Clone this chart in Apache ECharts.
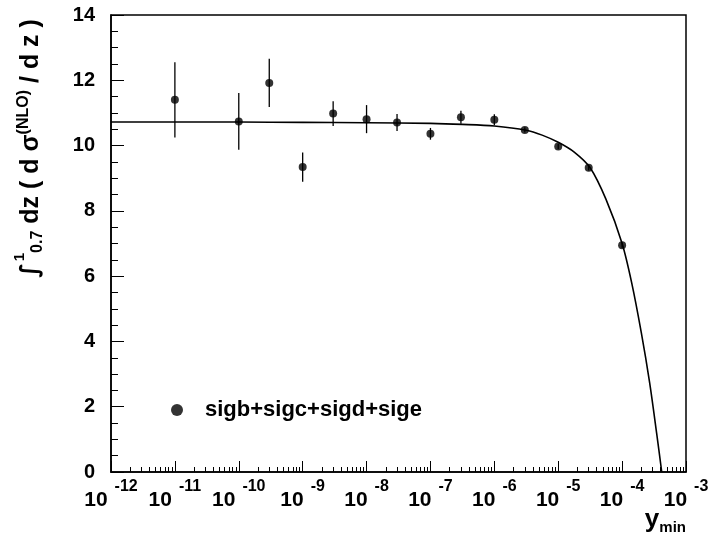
<!DOCTYPE html>
<html>
<head>
<meta charset="utf-8">
<script src="https://cdn.jsdelivr.net/npm/echarts@6/dist/echarts.min.js"></script>
<style>
html,body{margin:0;padding:0;background:#fff;}
#chart{width:713px;height:540px;}
</style>
</head>
<body>
<div id="chart"></div>
<script>
// ---- data ----
const seriesName = 'sigb+sigc+sigd+sige';
const ymin   = [1e-11, 1e-10, 3e-10, 1e-9, 3e-9, 1e-8, 3e-8, 1e-7, 3e-7, 1e-6, 3e-6, 1e-5, 3e-5, 1e-4];
const sigma  = [11.40, 10.74, 11.92, 9.34, 10.98, 10.81, 10.71, 10.36, 10.87, 10.79, 10.48, 9.97, 9.32, 6.95];
const sigErr = [1.15, 0.87, 0.74, 0.45, 0.38, 0.43, 0.26, 0.18, 0.20, 0.17, 0.08, 0.08, 0.08, 0.08];

// fitted curve as drawn in the reference
const fitX = [1e-12, 1e-11, 1e-10, 1e-9, 1e-8, 1e-7, 3.16e-7, 1e-6, 3.16e-6, 5.6e-6, 1e-5, 1.78e-5, 3.16e-5, 5.6e-5, 1e-4, 1.41e-4, 2.0e-4, 2.7e-4, 3.47e-4, 4.17e-4];
const fitY = [10.72, 10.72, 10.72, 10.71, 10.70, 10.68, 10.65, 10.60, 10.47, 10.32, 10.10, 9.80, 9.32, 8.35, 7.00, 5.80, 4.26, 2.73, 1.19, 0.0];

const xMin = 1e-12, xMax = 1e-3;
const yMin = 0, yMax = 14, yStep = 2;
const xTitle = ['y', 'min'];

// ---- chart ----
const FONT = '"Liberation Sans", Arial, Helvetica, sans-serif';
const chart = echarts.init(document.getElementById('chart'), null, {renderer: 'canvas'});

const option = {
  backgroundColor: '#ffffff',
  animation: false,
  textStyle: {fontFamily: FONT, color: '#000'},
  grid: {
    left: 111, right: 27, top: 15, bottom: 68,
    outerBoundsMode: 'none',
    containLabel: false,
    show: true, borderColor: '#000', borderWidth: 1.5, backgroundColor: 'transparent'
  },
  legend: {
    left: 171, top: 399, padding: 0,
    itemWidth: 12, itemHeight: 12,
    data: [{name: seriesName, icon: 'circle'}],
    textStyle: {fontFamily: FONT, fontSize: 22, fontWeight: 'bold', color: '#000', padding: [0, 0, 0, 17]},
    selectedMode: false
  },
  graphic: [{
    type: 'text',
    right: 27, top: 507,
    style: {
      text: '{y|' + xTitle[0] + '}{s|' + xTitle[1] + '}',
      fill: '#000',
      rich: {
        y: {fontFamily: FONT, fontSize: 26, fontWeight: 'bold', fill: '#000', lineHeight: 30, verticalAlign: 'middle'},
        s: {fontFamily: FONT, fontSize: 15, fontWeight: 'bold', fill: '#000', lineHeight: 15, verticalAlign: 'bottom'}
      }
    }
  }],
  xAxis: {
    type: 'log', logBase: 10, min: xMin, max: xMax,
    axisLine: {show: true, lineStyle: {color: '#000', width: 1.5}},
    axisTick: {show: true, inside: true, length: 11, lineStyle: {color: '#000', width: 1}},
    minorTick: {show: true, splitNumber: 9, length: 5, lineStyle: {color: '#000', width: 1}},
    splitLine: {show: false},
    minorSplitLine: {show: false},
    axisLabel: {
      show: true, margin: 7, showMinLabel: true, showMaxLabel: true, hideOverlap: false,
      formatter: function (v) {
        const e = Math.round(Math.log10(v));
        return '{b|10}{e|' + e + '}';
      },
      rich: {
        b: {fontFamily: FONT, fontSize: 21, fontWeight: 'bold', color: '#000', verticalAlign: 'bottom'},
        e: {fontFamily: FONT, fontSize: 16, fontWeight: 'bold', color: '#000', verticalAlign: 'top', padding: [0, 0, 16, 7]}
      }
    }
  },
  yAxis: {
    type: 'value', min: yMin, max: yMax, interval: yStep,
    axisLine: {show: true, lineStyle: {color: '#000', width: 1.5}},
    axisTick: {show: true, inside: true, length: 13, lineStyle: {color: '#000', width: 1}},
    minorTick: {show: true, splitNumber: 4, length: 7, lineStyle: {color: '#000', width: 1}},
    splitLine: {show: false},
    axisLabel: {margin: 16, fontFamily: FONT, fontSize: 20, fontWeight: 'bold', color: '#000'},
    name: '{i|∫}{p|1}{q|0.7}{m| dz ( d σ}{n|(NLO)}{m| / d z )}',
    nameLocation: 'middle',
    nameRotate: 90,
    nameGap: 61,
    nameTextStyle: {
      padding: [0, 0, 0, 190],
      rich: {
        i: {fontFamily: 'DejaVu Sans, ' + FONT, fontSize: 24, fontWeight: 'bold', color: '#000', lineHeight: 38, verticalAlign: 'middle'},
        m: {fontFamily: FONT, fontSize: 25, fontWeight: 'bold', color: '#000', lineHeight: 38, verticalAlign: 'middle'},
        p: {fontFamily: FONT, fontSize: 15, fontWeight: 'bold', color: '#000', lineHeight: 15, verticalAlign: 'top', padding: [0, 0, 0, 2]},
        q: {fontFamily: FONT, fontSize: 16, fontWeight: 'bold', color: '#000', lineHeight: 16, verticalAlign: 'bottom', padding: [0, 0, 4, 0]},
        n: {fontFamily: FONT, fontSize: 16, fontWeight: 'bold', color: '#000', lineHeight: 16, verticalAlign: 'top', padding: [4, 0, 0, 0]}
      }
    }
  },
  series: [
    {
      name: 'fit',
      type: 'line',
      data: fitX.map((x, i) => [x, fitY[i]]),
      smooth: 0.3,
      showSymbol: false,
      symbol: 'none',
      lineStyle: {color: '#000', width: 1.6},
      z: 2, silent: true
    },
    {
      name: seriesName + ' errors',
      type: 'custom',
      data: ymin.map((x, i) => [x, sigma[i] - sigErr[i], sigma[i] + sigErr[i]]),
      encode: {x: 0, y: [1, 2]},
      renderItem: function (params, api) {
        const lo = api.coord([api.value(0), api.value(1)]);
        const hi = api.coord([api.value(0), api.value(2)]);
        return {
          type: 'line',
          shape: {x1: lo[0], y1: lo[1], x2: hi[0], y2: hi[1]},
          style: {stroke: '#000', lineWidth: 1.3}
        };
      },
      z: 3, silent: true
    },
    {
      name: seriesName,
      type: 'scatter',
      data: ymin.map((x, i) => [x, sigma[i]]),
      symbol: 'circle',
      symbolSize: 8,
      itemStyle: {color: '#000'},
      z: 4
    }
  ]
};
chart.setOption(option);
</script>
</body>
</html>
